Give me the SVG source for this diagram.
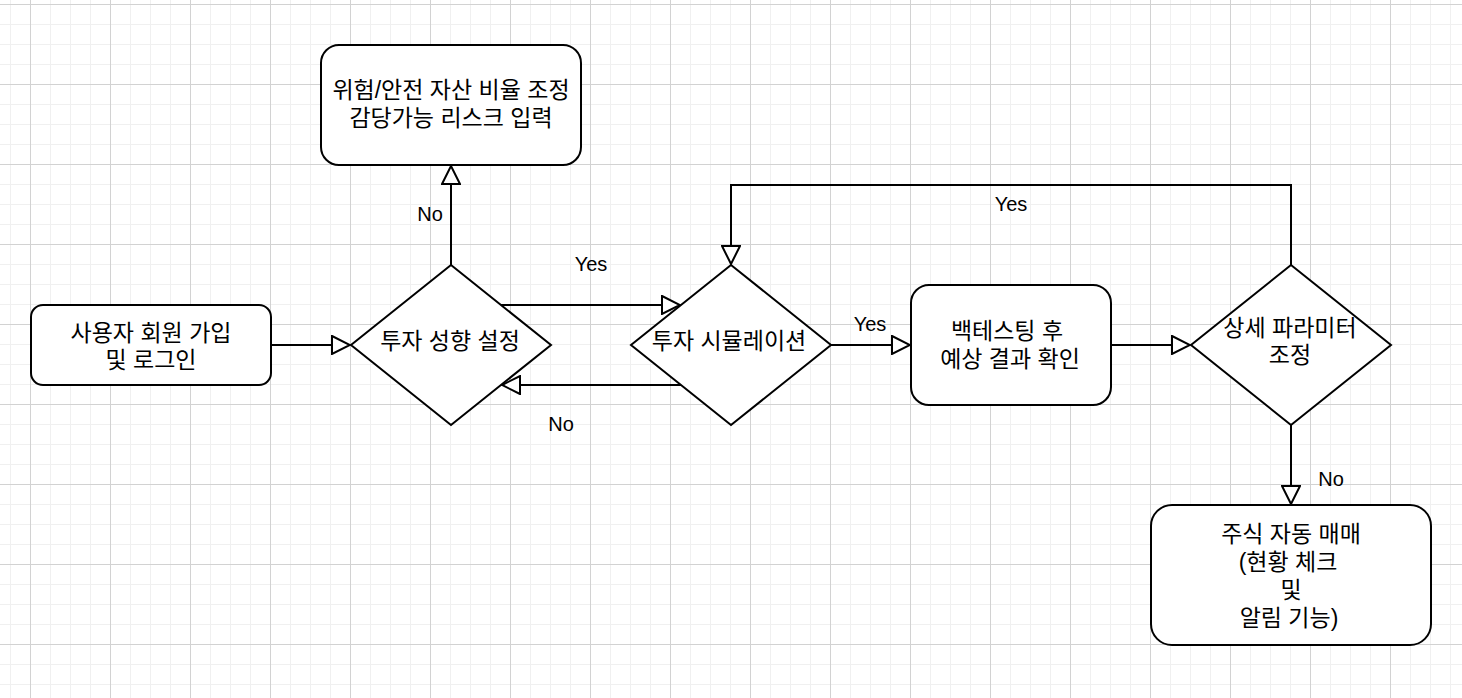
<svg xmlns="http://www.w3.org/2000/svg" width="1462" height="698" viewBox="0 0 1462 698">
<style>
.box{fill:#ffffff;stroke:#000000;stroke-width:2}
.edge{fill:none;stroke:#000000;stroke-width:2}
.t{font-family:"Liberation Sans","Noto Sans CJK KR",sans-serif;font-size:23px;fill:#000000;text-anchor:middle;dominant-baseline:central}
.lbl{font-family:"Liberation Sans",Arial,sans-serif;font-size:20px;fill:#000000;text-anchor:middle}
</style>
<defs>
<pattern id="minor" patternUnits="userSpaceOnUse" x="10" y="4" width="20" height="20">
<rect x="0" y="0" width="1" height="20" fill="#f0f0f0"/>
<rect x="0" y="0" width="20" height="1" fill="#f0f0f0"/>
</pattern>
<pattern id="major" patternUnits="userSpaceOnUse" x="30" y="4" width="80" height="80">
<rect x="0" y="0" width="1" height="80" fill="#d2d2d2"/>
<rect x="0" y="0" width="80" height="1" fill="#d2d2d2"/>
</pattern>
<marker id="arr" viewBox="0 0 20 20" refX="19" refY="10" markerWidth="20" markerHeight="20" markerUnits="userSpaceOnUse" orient="auto">
<path d="M1,1 L19,10 L1,19 Z" fill="#ffffff" stroke="#000000" stroke-width="2"/>
</marker>
</defs>
<rect x="0" y="0" width="1462" height="698" fill="#ffffff"/>
<rect x="0" y="0" width="1462" height="698" fill="url(#minor)"/>
<rect x="0" y="0" width="1462" height="698" fill="url(#major)"/>

<g id="connectors">
<path class="edge" d="M271,345 L350,345" marker-end="url(#arr)"/>
<path class="edge" d="M451,265 L451,166" marker-end="url(#arr)"/>
<path class="edge" d="M501,305 L680,305" marker-end="url(#arr)"/>
<path class="edge" d="M681,385 L502,385" marker-end="url(#arr)"/>
<path class="edge" d="M831,345 L910,345" marker-end="url(#arr)"/>
<path class="edge" d="M1111,345 L1190,345" marker-end="url(#arr)"/>
<path class="edge" d="M1291,425 L1291,504" marker-end="url(#arr)"/>
<path class="edge" d="M1291,265 L1291,185 L731,185 L731,264" marker-end="url(#arr)"/>
<text class="lbl" x="430" y="221">No</text>
<text class="lbl" x="591" y="271">Yes</text>
<text class="lbl" x="561" y="431">No</text>
<text class="lbl" x="870" y="331">Yes</text>
<text class="lbl" x="1011" y="211">Yes</text>
<text class="lbl" x="1331" y="486">No</text>
</g>

<g id="node-signup">
<rect class="box" x="31" y="305" width="240" height="80" rx="12" ry="12"/>
<text class="t" x="151" y="333">사용자 회원 가입</text>
<text class="t" x="151" y="360">및 로그인</text>
</g>

<g id="node-risk">
<rect class="box" x="321" y="45" width="260" height="120" rx="18" ry="18"/>
<text class="t" x="451" y="90">위험/안전 자산 비율 조정</text>
<text class="t" x="451" y="118">감당가능 리스크 입력</text>
</g>

<g id="node-propensity">
<path class="box" d="M451,265 L551,345 L451,425 L351,345 Z"/>
<text class="t" x="450" y="341">투자 성향 설정</text>
</g>

<g id="node-simulation">
<path class="box" d="M731,265 L831,345 L731,425 L631,345 Z"/>
<text class="t" x="729" y="341">투자 시뮬레이션</text>
</g>

<g id="node-backtest">
<rect class="box" x="911" y="285" width="200" height="120" rx="18" ry="18"/>
<text class="t" x="1007" y="331">백테스팅 후</text>
<text class="t" x="1010" y="359">예상 결과 확인</text>
</g>

<g id="node-params">
<path class="box" d="M1291,265 L1391,345 L1291,425 L1191,345 Z"/>
<text class="t" x="1290" y="328">상세 파라미터</text>
<text class="t" x="1290" y="355">조정</text>
</g>

<g id="node-trading">
<rect class="box" x="1151" y="505" width="280" height="140" rx="21" ry="21"/>
<text class="t" x="1291" y="534">주식 자동 매매</text>
<text class="t" x="1288" y="562">(현황 체크</text>
<text class="t" x="1291" y="590">및</text>
<text class="t" x="1289" y="618">알림 기능)</text>
</g>
</svg>
